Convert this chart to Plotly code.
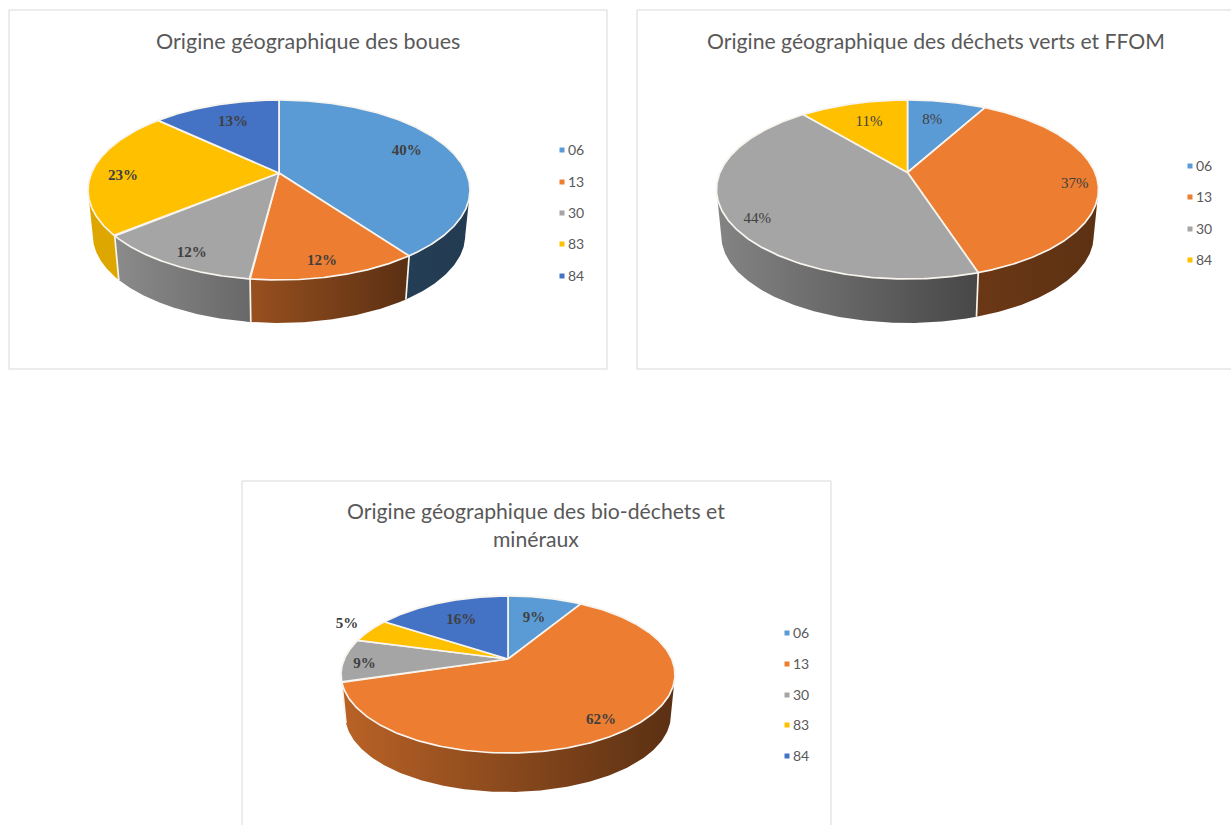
import numpy as np
import plotly.graph_objects as go

# ---------- data ----------
cats_boues = ["06", "13", "30", "83", "84"]
vals_boues = [40, 12, 12, 23, 13]
title_boues = "Origine géographique des boues"

cats_verts = ["06", "13", "30", "84"]
vals_verts = [8, 37, 44, 11]
title_verts = "Origine géographique des déchets verts et FFOM"

cats_bio = ["06", "13", "30", "83", "84"]
vals_bio = [8.7, 61.6, 8.9, 5.0, 15.8]
title_bio = "Origine géographique des bio-déchets et<br>minéraux"

# ---------- styling / layout (page pixels) ----------
COLORS = ["#5b9bd5", "#ed7d31", "#a5a5a5", "#ffc000", "#4472c4"]
COLORS_VERTS = ["#5b9bd5", "#ed7d31", "#a5a5a5", "#ffc000"]
TXT = "#595959"
LBL = "#404040"
EDGE = "#f8f4ee"
LABEL_DROP = 1.5     # optical centring of the serif percentage labels

panels = [
    dict(cats=cats_boues, vals=vals_boues, title=title_boues, colors=COLORS,
         frame=(9, 10, 607, 369), title_xy=(308, 41), title_size=21.5,
         cx=279, top=100, bottom=280, apex=173, rx=191, base=323,
         label_r=[.77, .86, .87, .83, .73], label_dt=[-3.4, 1.4, -1.6, -2.8, 1.2], bold=True,
         side=[(.40, .38), (.64, .38), (.84, .63), (.87, .87), (.4, .4)],
         leg_x=562, leg_y=[150, 182, 213, 244, 276]),
    dict(cats=cats_verts, vals=vals_verts, title=title_verts, colors=COLORS_VERTS,
         frame=(637, 10, 1240, 369), title_xy=(936, 41), title_size=21.2,
         cx=907.5, top=100, bottom=279, apex=172.5, rx=191, base=323,
         label_r=[.72, .88, .87, .71], label_dt=[-2.4, 2, -4.2, .8], bold=False,
         side=[(.4, .4), (.45, .39), (.80, .43), (.9, .9)],
         leg_x=1190, leg_y=[166, 197, 229, 260]),
    dict(cats=cats_bio, vals=vals_bio, title=title_bio, colors=COLORS,
         frame=(242, 481, 831, 840), title_xy=(536, 524.5), title_size=21.2,
         cx=508, top=596, bottom=753, apex=659, rx=167, base=792,
         label_r=[.66, .84, .87, 1.21, .67], label_dt=[0, 2, -2.4, 2, 0], bold=True,
         side=[(.4, .4), (.78, .38), (.8, .8), (.8, .8), (.8, .8)],
         leg_x=787, leg_y=[633, 664, 695, 725, 756]),
]
SHRINK = 0.975       # the lower face of the disc is slightly smaller


def shade(hex_color, f):
    r, g, b = (int(hex_color[i:i + 2], 16) for i in (1, 3, 5))
    return f"rgb({r * f:.0f},{g * f:.0f},{b * f:.0f})"


def projector(p):
    """Perspective view of the unit disc; theta clockwise from 12 o'clock."""
    T, B, A = p["top"], p["bottom"], p["apex"]
    c = (T + B - 2 * A) / (B - T)
    a = T * (1 + c) - A
    yc, ry = (T + B) / 2, (B - T) / 2
    R = p["rx"] * np.sqrt(1 - ((A - yc) / ry) ** 2)

    def top_face(theta, r=1.0):
        u, v = r * np.sin(theta), r * np.cos(theta)
        d = c * v + 1
        return p["cx"] + R * u / d, (a * v + A) / d

    drop = p["base"] - (yc + ry * SHRINK)

    def low_face(theta):
        x, y = top_face(theta)
        return p["cx"] + (x - p["cx"]) * SHRINK, yc + (y - yc) * SHRINK + drop

    return top_face, low_face, yc


fig = go.Figure()
shapes = []
annotations = []

for p in panels:
    x0, y0, x1, y1 = p["frame"]
    shapes.append(dict(type="rect", xref="x", yref="y", x0=x0, y0=y0, x1=x1, y1=y1,
                       line=dict(color="#d9d9d9", width=1), fillcolor="white", layer="below"))
    annotations.append(dict(x=p["title_xy"][0], y=p["title_xy"][1], xref="x", yref="y",
                            text=p["title"], showarrow=False, align="center",
                            font=dict(family="Lato", size=p["title_size"], color=TXT)))
    top_face, low_face, yc = projector(p)
    vals = np.array(p["vals"], dtype=float)
    edges = np.concatenate([[0], np.cumsum(vals)]) / vals.sum() * 2 * np.pi

    # side walls first
    for i, col in enumerate(p["colors"]):
        th = np.linspace(edges[i], edges[i + 1], 240)
        th = th[top_face(th)[1] >= yc]
        if len(th) < 2:
            continue
        xt, yt = top_face(th)
        xb, yb = low_face(th)
        xs = np.r_[xt, xb[::-1]]
        f0, f1 = p["side"][i]
        fig.add_trace(go.Scatter(
            x=xs, y=np.r_[yt, yb[::-1]], mode="lines", fill="toself",
            line=dict(width=0), hoverinfo="skip", showlegend=False,
            fillgradient=dict(type="horizontal", start=float(xs.min()), stop=float(xs.max()),
                              colorscale=[[0, shade(col, f0)], [1, shade(col, f1)]])))
    # white separators on the wall
    for e in edges[:-1]:
        e = np.array([e])
        if top_face(e)[1][0] >= yc:
            xt, yt = top_face(e)
            xb, yb = low_face(e)
            fig.add_trace(go.Scatter(x=[xt[0], xb[0]], y=[yt[0], yb[0]], mode="lines",
                                     line=dict(color=EDGE, width=1.7),
                                     hoverinfo="skip", showlegend=False))
    # top face
    for i, col in enumerate(p["colors"]):
        th = np.linspace(edges[i], edges[i + 1], 240)
        xt, yt = top_face(th)
        fig.add_trace(go.Scatter(
            x=np.r_[p["cx"], xt, p["cx"]], y=np.r_[p["apex"], yt, p["apex"]],
            mode="lines", fill="toself", fillcolor=col, name=p["cats"][i],
            line=dict(color=EDGE, width=1.7), showlegend=False,
            hovertemplate=p["cats"][i] + ": %{text}<extra></extra>",
            text=[f"{vals[i] / vals.sum():.0%}"] * (len(th) + 2)))
    # percentage labels
    mids = (edges[:-1] + edges[1:]) / 2 + np.radians(p["label_dt"])
    lx, ly = top_face(mids, np.array(p["label_r"]))
    fig.add_trace(go.Scatter(
        x=lx, y=ly + LABEL_DROP, mode="text", hoverinfo="skip", showlegend=False,
        text=[f"{v / vals.sum():.0%}" for v in vals], textposition="middle center",
        textfont=dict(family="Liberation Serif", size=15, color=LBL,
                      weight="bold" if p["bold"] else "normal")))
    # legend keys
    fig.add_trace(go.Scatter(
        x=[p["leg_x"]] * len(p["cats"]), y=p["leg_y"], mode="markers",
        hoverinfo="skip", showlegend=False,
        marker=dict(symbol="square", size=5, color=p["colors"])))
    fig.add_trace(go.Scatter(
        x=[p["leg_x"] + 6] * len(p["cats"]), y=[v + 1.5 for v in p["leg_y"]], mode="text",
        text=p["cats"], textposition="middle right", hoverinfo="skip", showlegend=False,
        textfont=dict(family="Lato", size=14, color=TXT)))

fig.update_layout(
    width=1231, height=825, margin=dict(l=0, r=0, t=0, b=0),
    paper_bgcolor="white", plot_bgcolor="white", showlegend=False,
    xaxis=dict(range=[0, 1231], visible=False, fixedrange=True),
    yaxis=dict(range=[825, 0], visible=False, fixedrange=True),
    shapes=shapes, annotations=annotations,
)
fig.write_html("out.html", post_script="document.body.style.margin='0';",
               config={"displayModeBar": False})
